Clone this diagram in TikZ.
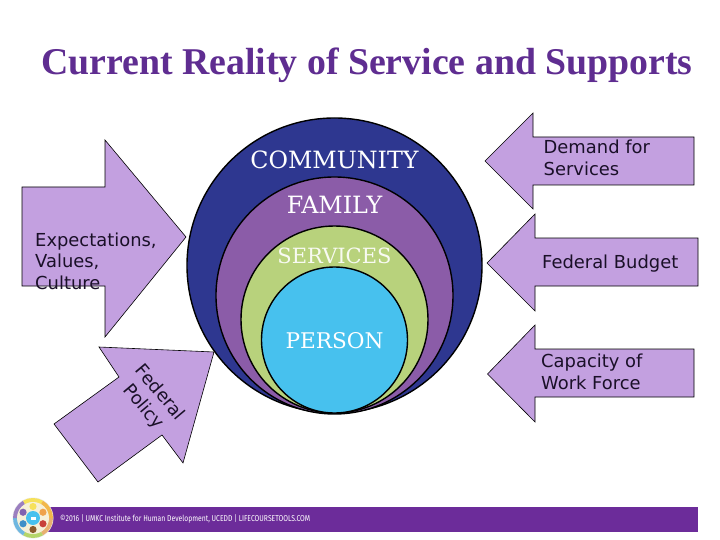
\documentclass[tikz,border=0pt]{standalone}
\usepackage{fontspec}
\setmainfont{Liberation Serif}
\newfontfamily\labelfont{DejaVu Sans}
\newfontfamily\slabfont{DejaVu Serif}
\newfontfamily\footfont[FakeStretch=0.8]{Fira Sans}
\definecolor{arrowfill}{HTML}{C3A0E0}
\definecolor{titlepurple}{HTML}{5F2D91}
\definecolor{barpurple}{HTML}{6C2C9A}
\definecolor{commblue}{HTML}{2E3790}
\definecolor{famviolet}{HTML}{8B5CA8}
\definecolor{svcgreen}{HTML}{B8D27C}
\definecolor{persblue}{HTML}{47C1EE}
\definecolor{inktext}{HTML}{1A1028}
\definecolor{lgA}{HTML}{F2B84B}
\definecolor{lgB}{HTML}{F6E15A}
\definecolor{lgC}{HTML}{9B7FC0}
\definecolor{lgD}{HTML}{6FB7E0}
\definecolor{lgE}{HTML}{B5D56A}
\definecolor{lgF}{HTML}{E8B070}
\definecolor{lgG}{HTML}{F6F0D8}
\definecolor{lgH}{HTML}{EFA24A}
\definecolor{lgI}{HTML}{C8403A}
\definecolor{lgJ}{HTML}{8A5A2B}
\definecolor{lgK}{HTML}{3E8FC8}
\definecolor{lgL}{HTML}{8062B0}
\tikzset{
  arrowshape/.style={draw=black,line width=0.6pt,fill=arrowfill,line join=miter},
  ringshape/.style={draw=black,line width=1.4pt},
  arrowtext/.style={font=\labelfont\fontsize{17.9}{21.5}\selectfont,text=inktext,align=left,anchor=north west,inner sep=0pt},
  ringtext/.style={text=white,inner sep=0pt,anchor=base},
}
\begin{document}
\begin{tikzpicture}[x=1pt,y=-1pt]
\useasboundingbox (0,0) rectangle (720,540);
\fill[white] (0,0) rectangle (720,540);

\node[font=\bfseries\fontsize{37.8}{37.8}\selectfont,text=titlepurple,inner sep=0pt,anchor=base] (title) at (367,75) {Current Reality of Service and Supports};

% rings
\draw[ringshape,fill=commblue] (334.5,265.5) circle[radius=147.5];
\draw[ringshape,fill=famviolet] (334.5,295.5) circle[radius=118.5];
\draw[ringshape,fill=svcgreen] (334.5,319.5) circle[radius=93.5];
\draw[ringshape,fill=persblue] (334.5,340) circle[radius=73];
\node[ringtext,font=\slabfont\fontsize{23.8}{24}\selectfont] (community) at (334.5,169) {COMMUNITY};
\node[ringtext,font=\slabfont\fontsize{23.8}{24}\selectfont] (family) at (334.5,214) {FAMILY};
\node[ringtext,font=\slabfont\fontsize{21}{24}\selectfont,text=white!90!svcgreen] (services) at (334.5,263) {SERVICES};
\node[ringtext,font=\slabfont\fontsize{21.6}{24}\selectfont] (person) at (334.5,348) {PERSON};

% arrows
\draw[arrowshape] (22,187) -- (105,187) -- (105,140) -- (186,237) -- (105,337) -- (105,286) -- (22,286) -- cycle;
\draw[arrowshape] (54,424) -- (119,377) -- (99,347) -- (214,352) -- (183,463) -- (162,435) -- (98,482) -- cycle;
\draw[arrowshape] (694,137) -- (533,137) -- (533,113) -- (485,161) -- (533,209) -- (533,185) -- (694,185) -- cycle;
\draw[arrowshape] (698,238) -- (535,238) -- (535,214) -- (487,263) -- (535,311) -- (535,286) -- (698,286) -- cycle;
\draw[arrowshape] (694,349) -- (535,349) -- (535,325) -- (487.5,374) -- (535,422) -- (535,397) -- (694,397) -- cycle;

\node[arrowtext] (expect) at (35,232.5) {Expectations,\\Values,\\Culture};
\node[arrowtext] (demand) at (543.5,140) {Demand for\\Services};
\node[arrowtext] (budget) at (542,255) {Federal Budget};
\node[arrowtext] (capacity) at (541,354) {Capacity of\\Work Force};
\node[arrowtext,anchor=center,rotate=-50,align=center] (policy) at (151.5,400) {Federal\\Policy};

% footer
\fill[barpurple] (40,507) rectangle (698,532);
\node[font=\footfont\fontsize{8.5}{8.5}\selectfont,text=white,inner sep=0pt,anchor=base west] (foot) at (60,521.7) {©2016 | UMKC Institute for Human Development, UCEDD | LIFECOURSETOOLS.COM};

% logo
\fill[white!85!gray] (33,518) circle[radius=20.5];
\foreach \a/\c in {0/lgF,60/lgE,120/lgD,180/lgC,240/lgB,300/lgA}{
  \fill[\c] (33,518) -- ++(\a:20) arc[start angle=\a,delta angle=60,radius=20] -- cycle;
}
\fill[lgG] (33,518) circle[radius=16];
\foreach \a/\c in {-90/lgB,-30/lgH,30/lgI,90/lgJ,150/lgK,210/lgL}{
  \fill[\c] (33,518) ++(\a:11.5) circle[radius=3.6];
}
\fill[persblue] (33,518) circle[radius=7];
\fill[white] (30.5,516.5) rectangle (35.5,519.5);
\end{tikzpicture}
\end{document}
